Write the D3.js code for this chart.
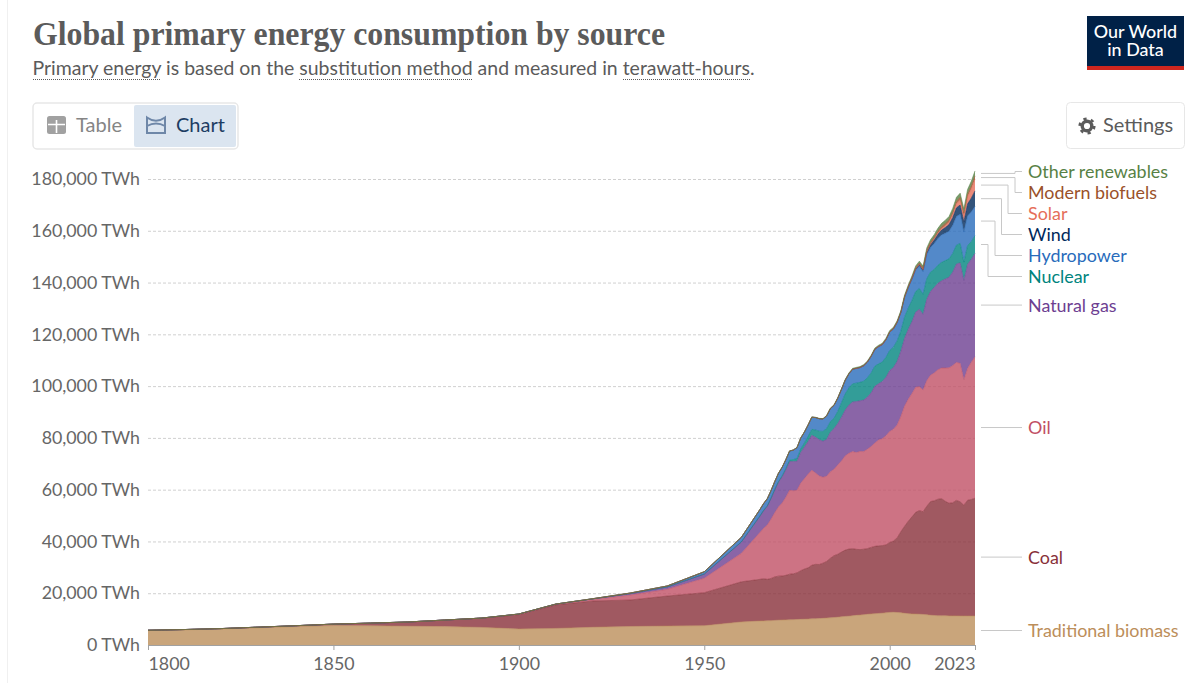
<!DOCTYPE html>
<html>
<head>
<meta charset="utf-8">
<title>Global primary energy consumption by source</title>
<script src="https://cdn.jsdelivr.net/npm/d3@7"></script>
<style>
    html, body { margin: 0; padding: 0; background: #fff; overflow: hidden; }
    text { font-family: Lato, "Noto Sans", sans-serif; }
</style>
</head>
<body>
<div id="myPlot"></div>
<script>
// years: decades up to 1960, then every year
var years = [1800, 1810, 1820, 1830, 1840, 1850, 1860, 1870, 1880, 1890, 1900, 1910, 1920, 1930, 1940, 1950, 1960].concat(d3.range(1965, 2024));

// TWh per source. 17 early points, then 1965-2023
var biomass = [5600, 5850, 6200, 6650, 7100, 7500, 7400, 7250, 7100, 6800, 6180, 6400, 6850, 7150, 7300, 7450, 8900,
    9250, 9300, 9350, 9400, 9500, 9600, 9650, 9700, 9750, 9800,
    9850, 9900, 9950, 10000, 10100, 10150, 10200, 10300, 10400, 10500,
    10600, 10750, 10900, 11050, 11150, 11300, 11450, 11550, 11700, 11850,
    12000, 12100, 12200, 12300, 12450, 12600, 12650, 12550, 12450, 12250,
    12100, 12000, 11950, 11900, 11800, 11700, 11500, 11400, 11300, 11300,
    11300, 11250, 11250, 11250, 11200, 11200, 11200, 11200, 11200];
var coal = [100, 130, 160, 260, 360, 570, 1060, 1640, 2540, 3600, 5550, 9100, 10150, 10230, 11600, 12750, 15500,
    16100, 16300, 16000, 16300, 16800, 17000, 17000, 17200, 17600, 17700,
    18000, 18800, 19400, 19800, 20700, 21000, 20900, 21300, 21900, 23000,
    23900, 24300, 25000, 25600, 25900, 25900, 25500, 25300, 25300, 25400,
    25700, 26000, 26100, 26100, 26200, 27000, 27500, 28800, 31300, 33600,
    35700, 37500, 39300, 40000, 39700, 41900, 43900, 44300, 45000, 45200,
    44200, 43500, 43700, 44600, 44100, 42800, 44700, 45000, 45500];
var oil = [0, 0, 0, 0, 0, 0, 0, 0, 0, 0, 180, 200, 600, 1900, 2600, 5600, 11000,
    18100, 19500, 21000, 22900, 24800, 26700, 28200, 30200, 32400, 32100,
    31900, 33800, 34900, 36200, 36700, 35300, 34200, 33200, 32900, 33400,
    33400, 34500, 35200, 36400, 37000, 37500, 37400, 37900, 37700, 38400,
    39000, 39900, 40900, 41300, 42200, 42900, 43200, 43600, 44500, 46400,
    47100, 47600, 48300, 47900, 47000, 48500, 48800, 49400, 50000, 50500,
    51500, 52300, 53000, 53300, 53500, 48500, 50900, 53000, 54600];
var gas = [0, 0, 0, 0, 0, 0, 0, 0, 0, 0, 60, 100, 230, 600, 900, 1600, 4400,
    6300, 6800, 7300, 8000, 8800, 9600, 10200, 10700, 11100, 11300,
    11200, 11900, 12200, 12600, 13500, 13800, 14000, 13900, 14200, 15300,
    15700, 16000, 16900, 17700, 18600, 19200, 19700, 19600, 19900, 20100,
    20700, 21900, 21700, 22100, 22600, 23500, 23800, 24600, 25200, 26200,
    27000, 27800, 29000, 29900, 29200, 31500, 32300, 33000, 33400, 33700,
    34400, 35000, 36100, 38000, 38800, 38300, 40200, 39800, 40000];
var nuclear = [0, 0, 0, 0, 0, 0, 0, 0, 0, 0, 0, 0, 0, 0, 0, 0, 0,
    70, 90, 110, 130, 170, 220, 310, 420, 570, 730,
    1100, 1300, 1600, 2000, 2300, 2800, 3300, 3800, 4200, 4100,
    4000, 4700, 5600, 6200, 6700, 7000, 7100, 7100, 7300, 7500,
    7700, 7800, 7700, 7500, 7700, 7800, 7900, 7900, 7800, 8200,
    8200, 8200, 8000, 8000, 7800, 7900, 7500, 7000, 7000, 7100,
    7100, 7100, 7200, 7300, 7500, 7100, 7300, 6800, 6800];
var hydro = [0, 0, 0, 0, 0, 0, 0, 0, 0, 0, 5, 30, 70, 180, 400, 900, 1800,
    2500, 2650, 2750, 2900, 3050, 3200, 3300, 3400, 3500, 3650,
    4200, 4200, 4200, 4400, 4700, 4800, 4800, 4800, 4900, 5000,
    5000, 5100, 5150, 5300, 5400, 5600, 5700, 5700, 6000, 6050,
    6400, 6500, 6650, 6700, 6750, 7000, 6950, 7000, 7050, 7500,
    7800, 8100, 8250, 8650, 8650, 9300, 9500, 9950, 10300, 10600,
    10500, 10700, 10850, 11100, 11250, 11600, 11400, 11500, 11300];
var wind = [0, 0, 0, 0, 0, 0, 0, 0, 0, 0, 0, 0, 0, 0, 0, 0, 0,
    0, 0, 0, 0, 0, 0, 0, 0, 0, 0,
    0, 0, 0, 0, 0, 0, 0, 0, 0, 0,
    0, 0, 0, 0, 0, 0, 0, 0, 0, 0,
    10, 15, 20, 30, 60, 90, 110, 150, 170, 230,
    280, 360, 460, 600, 750, 950, 1200, 1450, 1700, 1900,
    2250, 2550, 3000, 3300, 3600, 4000, 4700, 5300, 6000];
var solar = [0, 0, 0, 0, 0, 0, 0, 0, 0, 0, 0, 0, 0, 0, 0, 0, 0,
    0, 0, 0, 0, 0, 0, 0, 0, 0, 0,
    0, 0, 0, 0, 0, 0, 0, 0, 0, 0,
    0, 0, 0, 0, 0, 0, 0, 0, 0, 0,
    0, 0, 0, 0, 0, 0, 0, 0, 0, 0,
    10, 15, 20, 35, 55, 90, 180, 280, 370, 530,
    680, 880, 1200, 1550, 1900, 2250, 2750, 3500, 4500];
var biofuels = [0, 0, 0, 0, 0, 0, 0, 0, 0, 0, 0, 0, 0, 0, 0, 0, 0,
    0, 0, 0, 0, 0, 0, 0, 0, 0, 0,
    0, 0, 5, 5, 10, 15, 20, 30, 40, 50,
    60, 60, 65, 65, 70, 75, 75, 80, 85, 90,
    95, 100, 105, 105, 110, 120, 135, 150, 175, 205,
    240, 330, 420, 540, 590, 650, 650, 660, 740, 800,
    840, 860, 900, 1000, 1080, 1000, 1080, 1170, 1300];
var otherRenewables = [0, 0, 0, 0, 0, 0, 0, 0, 0, 0, 0, 0, 0, 0, 0, 0, 40,
    50, 50, 55, 55, 60, 60, 65, 65, 70, 75,
    80, 85, 90, 95, 100, 110, 120, 130, 140, 160,
    180, 195, 215, 240, 265, 290, 300, 310, 325, 340,
    360, 380, 400, 410, 430, 450, 460, 480, 510, 560,
    600, 640, 690, 750, 820, 900, 980, 1050, 1150, 1230,
    1300, 1380, 1450, 1520, 1600, 1680, 1750, 1830, 1900];

var sourceNames = ["Traditional biomass", "Coal", "Oil", "Natural gas", "Nuclear", "Hydropower", "Wind", "Solar", "Modern biofuels", "Other renewables"];
var sourceValues = [biomass, coal, oil, gas, nuclear, hydro, wind, solar, biofuels, otherRenewables];
var sourceColors = ["#BC8E5A", "#883039", "#C15065", "#6D3E91", "#00847E", "#286BBB", "#00295B", "#E56E5A", "#9A5129", "#578145"];

var yTicks = [0, 20000, 40000, 60000, 80000, 100000, 120000, 140000, 160000, 180000];
var xTicks = [1800, 1850, 1900, 1950, 2000, 2023];

// y of each label at the right, top to bottom is other renewables first
var labelY = { "Other renewables": 172, "Modern biofuels": 193, "Solar": 214, "Wind": 235, "Hydropower": 256, "Nuclear": 277, "Natural gas": 306, "Oil": 428, "Coal": 558, "Traditional biomass": 631 };
// x of the vertical step in the connector
var elbowX = { "Other renewables": 1015, "Modern biofuels": 1015, "Solar": 1008, "Wind": 1001.5, "Hydropower": 995, "Nuclear": 988 };

var svgWidth = 1200;
var svgHeight = 683;
var margin = { top: 179, right: 225, bottom: 38, left: 148 };

var svg = d3.select("#myPlot")
    .append("svg")
    .attr("width", svgWidth)
    .attr("height", svgHeight)
    .style("display", "block");

// faint page edge on the left
svg.append("line").attr("x1", 7.5).attr("x2", 7.5).attr("y1", 0).attr("y2", svgHeight).attr("stroke", "#f0f0f0");

//////////////////////////////////////////////////////////////////////////////////
// header

svg.append("text")
    .attr("x", 33).attr("y", 45)
    .attr("textLength", 632).attr("lengthAdjust", "spacingAndGlyphs")
    .style("font-family", "'Liberation Serif', serif")
    .style("font-size", "33px")
    .style("font-weight", 700)
    .attr("fill", "#5b5b5b")
    .text("Global primary energy consumption by source");

svg.append("text")
    .attr("x", 32.5).attr("y", 74.5)
    .attr("textLength", 722).attr("lengthAdjust", "spacingAndGlyphs")
    .style("font-size", "18.7px")
    .attr("fill", "#5b5b5b")
    .text("Primary energy is based on the substitution method and measured in terawatt-hours.");

[[33, 161], [299, 473], [623, 751]].forEach(function (u) {
    svg.append("line")
        .attr("x1", u[0]).attr("x2", u[1]).attr("y1", 79.5).attr("y2", 79.5)
        .attr("stroke", "#5b5b5b").attr("stroke-dasharray", "1,1");
});

// logo
svg.append("rect").attr("x", 1087).attr("y", 16).attr("width", 97).attr("height", 54).attr("fill", "#002147");
svg.append("rect").attr("x", 1087).attr("y", 66).attr("width", 97).attr("height", 4).attr("fill", "#ce261e");
var logoText = svg.append("text")
    .attr("text-anchor", "middle")
    .style("font-size", "17.9px")
    .style("font-weight", 500)
    .attr("fill", "#fff");
["Our World", "in Data"].forEach(function (t, i) {
    logoText.append("tspan").attr("x", 1135.5).attr("y", 38 + i * 18).text(t);
});

// table / chart switch
svg.append("rect").attr("x", 33).attr("y", 103).attr("width", 205).attr("height", 46).attr("rx", 4)
    .attr("fill", "#fff").attr("stroke", "#e7e7e7").attr("stroke-width", 1.5);
svg.append("rect").attr("x", 134).attr("y", 105).attr("width", 102).attr("height", 42).attr("rx", 2).attr("fill", "#dbe5f0");

svg.append("rect").attr("x", 47).attr("y", 116).attr("width", 19).attr("height", 18).attr("rx", 2.5).attr("fill", "#a1a1a1");
svg.append("path").attr("d", "M48,124.5H65M56.5,120V133").attr("stroke", "#fff").attr("stroke-width", 1.6).attr("fill", "none");
svg.append("text").attr("x", 76).attr("y", 131.5).style("font-size", "20px").attr("fill", "#858585").text("Table");

svg.append("path").attr("d", "M147,117.5V133H165V117.5Q156,124 147,117.5ZM147,126Q156,121 165,126")
    .attr("stroke", "#6e87a8").attr("stroke-width", 2).attr("fill", "none");
svg.append("text").attr("x", 176).attr("y", 131.5).style("font-size", "20px").attr("fill", "#1d3d63").text("Chart");

// settings button
svg.append("rect").attr("x", 1066.5).attr("y", 102.5).attr("width", 118).attr("height", 46).attr("rx", 4)
    .attr("fill", "#fff").attr("stroke", "#e7e7e7");
svg.append("circle").attr("cx", 1087).attr("cy", 126).attr("r", 4.8)
    .attr("fill", "none").attr("stroke", "#5b5b5b").attr("stroke-width", 3.4);
svg.append("circle").attr("cx", 1087).attr("cy", 126).attr("r", 7.3)
    .attr("fill", "none").attr("stroke", "#5b5b5b").attr("stroke-width", 2.6).attr("stroke-dasharray", "3.2,4.44");
svg.append("text").attr("x", 1103).attr("y", 131.5).style("font-size", "20px").attr("fill", "#5b5b5b").text("Settings");

//////////////////////////////////////////////////////////////////////////////////
// scales

var xScale = d3.scaleLinear()
    .domain([1800, 2023])
    .range([margin.left, svgWidth - margin.right]);

var yScale = d3.scaleLinear()
    .domain([0, 180000])
    .range([svgHeight - margin.bottom, margin.top]);

var format = d3.format(",");

// horizontal grid, goes under the areas and shows through them
var yAxis = d3.axisLeft(yScale)
    .tickValues(yTicks)
    .tickSize(-(svgWidth - margin.left - margin.right))
    .tickPadding(8)
    .tickFormat(function (d) { return format(d) + " TWh"; });

var yGroup = svg.append("g")
    .attr("transform", "translate(" + margin.left + ",0)")
    .call(yAxis);
yGroup.select(".domain").remove();
yGroup.selectAll(".tick line")
    .attr("stroke", "#d0d0d0")
    .attr("stroke-dasharray", "3,2")
    .filter(function (d) { return d === 0; }).remove();
yGroup.selectAll(".tick text")
    .style("font-size", "17.8px")
    .style("font-family", "Lato")
    .attr("fill", "#666666");

//////////////////////////////////////////////////////////////////////////////////
// stacked areas

var table = years.map(function (year, i) {
    var row = { year: year };
    sourceNames.forEach(function (name, s) { row[name] = sourceValues[s][i]; });
    return row;
});

var stacked = d3.stack().keys(sourceNames)(table);

var area = d3.area()
    .x(function (d) { return xScale(d.data.year); })
    .y0(function (d) { return yScale(d[0]); })
    .y1(function (d) { return yScale(d[1]); });

var topLine = d3.line()
    .x(function (d) { return xScale(d.data.year); })
    .y(function (d) { return yScale(d[1]); });

svg.append("g").selectAll("path")
    .data(stacked)
    .enter().append("path")
    .attr("d", area)
    .attr("fill", function (d, i) { return sourceColors[i]; })
    .attr("fill-opacity", 0.8);

svg.append("g").selectAll("path")
    .data(stacked)
    .enter().append("path")
    .attr("d", topLine)
    .attr("fill", "none")
    .attr("stroke", function (d, i) { return sourceColors[i]; })
    .attr("stroke-opacity", 0.7)
    .attr("stroke-width", 0.8);

//////////////////////////////////////////////////////////////////////////////////
// x axis

var xAxis = d3.axisBottom(xScale)
    .tickValues(xTicks)
    .tickSize(5)
    .tickPadding(7)
    .tickFormat(d3.format("d"));

var xGroup = svg.append("g")
    .attr("transform", "translate(0," + yScale(0) + ")")
    .call(xAxis);
xGroup.select(".domain").attr("stroke", "#a1a1a1").attr("d", "M" + xScale(1800) + ",0.5H" + xScale(2023));
xGroup.selectAll(".tick line").attr("stroke", "#a1a1a1");
xGroup.selectAll(".tick text")
    .style("font-size", "17.8px")
    .style("font-family", "Lato")
    .attr("fill", "#666666")
    .attr("text-anchor", function (d) { return d === 1800 ? "start" : d === 2023 ? "end" : "middle"; });

//////////////////////////////////////////////////////////////////////////////////
// labels and connectors at the right

var legend = svg.append("g").selectAll("g")
    .data(stacked)
    .enter().append("g");

legend.append("path")
    .attr("d", function (d) {
        var last = d[d.length - 1];
        var startY = yScale((last[0] + last[1]) / 2);
        var endY = labelY[d.key] - 0.5;
        var elbow = elbowX[d.key];
        if (elbow === undefined) {
            return "M981," + startY + "H1022";
        }
        return "M981," + startY + "H" + elbow + "V" + endY + "H1022";
    })
    .attr("fill", "none")
    .attr("stroke", "#c8c8c8")
    .attr("stroke-width", 1);

legend.append("text")
    .attr("x", 1028)
    .attr("y", function (d) { return labelY[d.key]; })
    .attr("dy", "0.35em")
    .style("font-size", "17.9px")
    .attr("fill", function (d, i) { return sourceColors[i]; })
    .text(function (d) { return d.key; });
</script>
</body>
</html>
